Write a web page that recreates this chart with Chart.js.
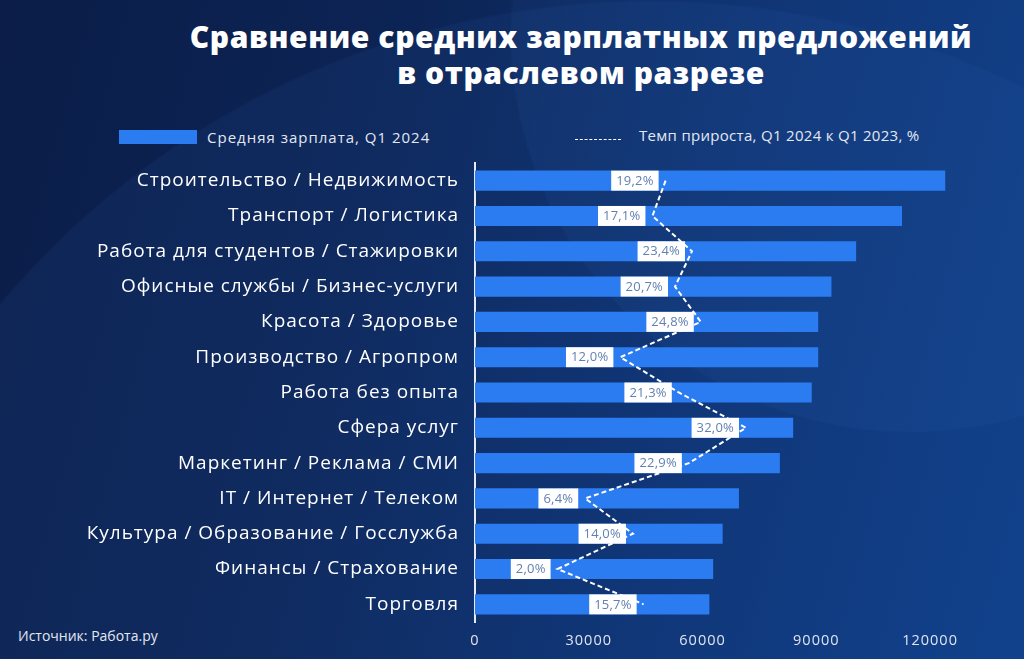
<!DOCTYPE html>
<html>
<head>
<meta charset="utf-8">
<script src="https://cdn.jsdelivr.net/npm/chart.js@4.4.1/dist/chart.umd.min.js"></script>
<style>
  html, body { margin:0; padding:0; }
  body { width:1024px; height:659px; overflow:hidden; font-family:'Open Sans', sans-serif; }
  #wrap {
    position:relative; width:1024px; height:659px; overflow:hidden;
    background:
      radial-gradient(circle 400px at 910px 33px, rgba(60,120,200,0.07) 99.5%, rgba(60,120,200,0) 100%),
      radial-gradient(circle 850px at 650px 850px, rgba(40,90,170,0.12) 99.7%, rgba(40,90,170,0) 100%),
      linear-gradient(105deg, #0b1d48 0%, #0c2455 35%, #0d3170 65%, #0e3e88 100%);
  }
  #title {
    position:absolute; left:0; top:19px; width:1162px; text-align:center;
    color:#fff; font-weight:800; font-size:30px; line-height:36px; letter-spacing:0.6px;
  }
  .leg { position:absolute; color:#e3e8f2; font-size:15px; line-height:20px; white-space:nowrap; }
  #legBox { position:absolute; left:119px; top:130px; width:78px; height:14px; background:#2b7cf0; }
  #legDash { position:absolute; left:575px; top:139px; width:46px; height:0; border-top:1.5px dashed #ffffff; }
  #source { position:absolute; left:18px; top:626px; color:#e3e8f2; font-size:14px; white-space:nowrap; }
  #chartBox { position:absolute; left:0; top:0; width:1024px; height:659px; }
</style>
</head>
<body>
<div id="wrap">
  <div id="title">Сравнение средних зарплатных предложений<br>в отраслевом разрезе</div>
  <div id="legBox"></div>
  <div class="leg" style="left:207px; top:127px; letter-spacing:1px;">Средняя зарплата, Q1 2024</div>
  <div id="legDash"></div>
  <div class="leg" style="left:639px; top:125px; letter-spacing:0.3px;">Темп прироста, Q1 2024 к Q1 2023, %</div>
  <div id="source">Источник: Работа.ру</div>
  <div id="chartBox"><canvas id="c"></canvas></div>
</div>
<script>
const categories = [
  'Строительство / Недвижимость',
  'Транспорт / Логистика',
  'Работа для студентов / Стажировки',
  'Офисные службы / Бизнес-услуги',
  'Красота / Здоровье',
  'Производство / Агропром',
  'Работа без опыта',
  'Сфера услуг',
  'Маркетинг / Реклама / СМИ',
  'IT / Интернет / Телеком',
  'Культура / Образование / Госслужба',
  'Финансы / Страхование',
  'Торговля'
];
const salaries = [124000, 112600, 100500, 94000, 90500, 90500, 88800, 83900, 80400, 69600, 65300, 62800, 61800];
const growth = [19.2, 17.1, 23.4, 20.7, 24.8, 12.0, 21.3, 32.0, 22.9, 6.4, 14.0, 2.0, 15.7];
const xTicks = [0, 30000, 60000, 90000, 120000];

const spacingPlugin = {
  id: 'letterSpacing',
  beforeDraw(chart) { chart.ctx.letterSpacing = '1px'; }
};

const labelPlugin = {
  id: 'growthLabels',
  afterDatasetsDraw(chart) {
    const meta = chart.getDatasetMeta(1);
    const ctx = chart.ctx;
    ctx.save();
    ctx.letterSpacing = '0.2px';
    ctx.font = '13px "Open Sans", sans-serif';
    ctx.textBaseline = 'middle';
    ctx.textAlign = 'center';
    meta.data.forEach((pt, i) => {
      const txt = growth[i].toFixed(1).replace('.', ',') + '%';
      const w = ctx.measureText(txt).width + 10;
      const h = 20;
      const right = pt.x - 7;
      ctx.fillStyle = '#ffffff';
      ctx.fillRect(right - w, pt.y - h / 2, w, h);
      ctx.fillStyle = '#6280b2';
      ctx.fillText(txt, right - w / 2, pt.y + 0.5);
    });
    ctx.restore();
  }
};

new Chart(document.getElementById('c'), {
  data: {
    labels: categories,
    datasets: [
      {
        type: 'bar',
        label: 'Средняя зарплата, Q1 2024',
        data: salaries,
        backgroundColor: '#2b7cf0',
        borderWidth: 0,
        barPercentage: 0.57,
        categoryPercentage: 1.0,
        xAxisID: 'x',
        yAxisID: 'y',
        order: 2
      },
      {
        type: 'line',
        label: 'Темп прироста, Q1 2024 к Q1 2023, %',
        data: growth,
        borderColor: '#ffffff',
        borderWidth: 2,
        borderDash: [5, 3],
        pointRadius: 0,
        tension: 0,
        fill: false,
        xAxisID: 'x2',
        yAxisID: 'y',
        order: 1
      }
    ]
  },
  options: {
    indexAxis: 'y',
    responsive: true,
    maintainAspectRatio: false,
    animation: false,
    layout: { padding: { left: 0, right: 56, top: 163, bottom: 0 } },
    plugins: {
      legend: { display: false },
      tooltip: { enabled: false }
    },
    scales: {
      x: {
        type: 'linear',
        position: 'bottom',
        min: 0,
        max: 130000,
        afterBuildTicks(axis) { axis.ticks = xTicks.map(v => ({ value: v })); },
        afterFit(axis) { axis.height = 37; },
        grid: { display: false, drawTicks: false },
        border: { display: false },
        ticks: {
          color: '#dfe5f0',
          font: { family: '"Open Sans", sans-serif', size: 14.5 },
          padding: 10,
          callback: v => String(v)
        }
      },
      x2: {
        type: 'linear',
        position: 'top',
        display: false,
        min: -11.15,
        max: 67.35
      },
      y: {
        type: 'category',
        position: 'left',
        afterFit(axis) { axis.width = 475; },
        grid: { display: false, drawTicks: false },
        border: { display: true, color: '#e6ebf3', width: 2 },
        ticks: {
          color: '#ffffff',
          font: { family: '"Open Sans", sans-serif', size: 19 },
          padding: 16
        }
      }
    }
  },
  plugins: [spacingPlugin, labelPlugin]
});
</script>
</body>
</html>
